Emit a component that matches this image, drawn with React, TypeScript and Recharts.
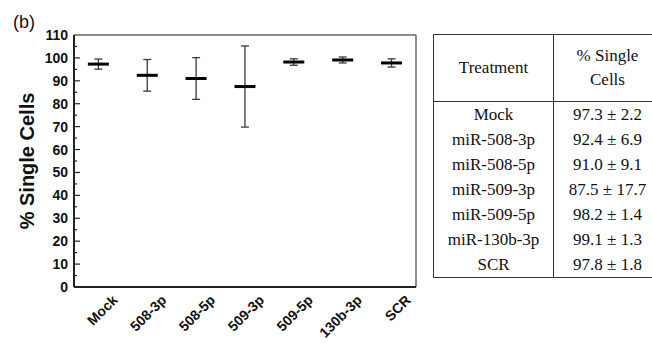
import React from 'react';
import { ComposedChart, Bar, XAxis, YAxis, CartesianGrid } from 'recharts';

const categories = ['Mock', '508-3p', '508-5p', '509-3p', '509-5p', '130b-3p', 'SCR'];
const treatments = ['Mock', 'miR-508-3p', 'miR-508-5p', 'miR-509-3p', 'miR-509-5p', 'miR-130b-3p', 'SCR'];
const means = [97.3, 92.4, 91.0, 87.5, 98.2, 99.1, 97.8];
const errors = [2.2, 6.9, 9.1, 17.7, 1.4, 1.3, 1.8];
const yTicks = [0, 5, 10, 15, 20, 25, 30, 35, 40, 45, 50, 55, 60, 65, 70, 75, 80, 85, 90, 95, 100, 105, 110];
const meanLabels = ['97.3', '92.4', '91.0', '87.5', '98.2', '99.1', '97.8'];
const errLabels = ['2.2', '6.9', '9.1', '17.7', '1.4', '1.3', '1.8'];

const data = categories.map((name, i) => ({ name, mean: means[i], err: errors[i] }));

const SANS = '"Liberation Sans", Arial, Helvetica, sans-serif';
const SERIF = '"Liberation Serif", "Times New Roman", Times, serif';

const MeanErr = (props: any) => {
  const { x, y, width, height, payload } = props;
  if (payload == null || !payload.mean) return null;
  const cx = x + width / 2;
  const k = height / payload.mean;
  const top = y - payload.err * k;
  const bot = y + payload.err * k;
  return (
    <g>
      <line x1={cx} x2={cx} y1={top} y2={bot} stroke="#3a3a3a" strokeWidth={1.3} />
      <line x1={cx - 4} x2={cx + 4} y1={top} y2={top} stroke="#3a3a3a" strokeWidth={1.3} />
      <line x1={cx - 4} x2={cx + 4} y1={bot} y2={bot} stroke="#3a3a3a" strokeWidth={1.3} />
      <line x1={cx - 10.5} x2={cx + 10.5} y1={y} y2={y} stroke="#000" strokeWidth={3} />
    </g>
  );
};

const YTick = (props: any) => {
  const { x, y, payload } = props;
  const v = payload.value;
  const major = v % 10 === 0;
  const ax = x + 6;
  return (
    <g>
      {v !== 0 && v !== 110 && (
        <line x1={ax} x2={ax + (major ? 6 : 3)} y1={y} y2={y} stroke="#222" strokeWidth={1.2} />
      )}
      {major && (
        <text x={x} y={y} dy="0.36em" textAnchor="end" fontFamily={SANS} fontWeight="bold" fontSize={14} fill="#111">
          {v}
        </text>
      )}
    </g>
  );
};

const XTick = (props: any) => {
  const { x, y, payload } = props;
  return (
    <g transform={`translate(${x + 20},${y + 14}) rotate(-45)`}>
      <text x={0} y={0} textAnchor="end" fontFamily={SANS} fontWeight="bold" fontSize={14} fill="#111">
        {payload.value}
      </text>
    </g>
  );
};

const topEdge = (args: any) => [args.offset.top];
const rightEdge = (args: any) => [args.offset.left + args.offset.width];

const cellStyle: React.CSSProperties = {
  padding: 0,
  textAlign: 'center',
  whiteSpace: 'nowrap',
};

export default function App() {
  return (
    <div
      style={{
        position: 'fixed',
        left: 0,
        top: 0,
        width: 652,
        height: 343,
        overflow: 'hidden',
        background: '#fff',
      }}
    >
      <div
        style={{
          position: 'absolute',
          left: 13,
          top: 12,
          fontFamily: SANS,
          fontSize: 18,
          lineHeight: '20px',
          color: '#111',
        }}
      >
        (b)
      </div>
      <div style={{ position: 'absolute', left: 0, top: 0 }}>
        <ComposedChart
          width={430}
          height={343}
          data={data}
          margin={{ top: 35, right: 14, bottom: 0, left: 0 }}
        >
          <CartesianGrid
            stroke="#666"
            strokeWidth={1.5}
            horizontalCoordinatesGenerator={topEdge}
            verticalCoordinatesGenerator={rightEdge}
          />
          <XAxis
            dataKey="name"
            type="category"
            interval={0}
            height={56}
            tickSize={0}
            tickMargin={0}
            tickLine={false}
            axisLine={{ stroke: '#222', strokeWidth: 2 }}
            tick={<XTick />}
          />
          <YAxis
            type="number"
            domain={[0, 110]}
            ticks={yTicks}
            interval={0}
            width={74}
            tickSize={0}
            tickMargin={6}
            tickLine={false}
            axisLine={{ stroke: '#222', strokeWidth: 2 }}
            tick={<YTick />}
            label={{
              value: '% Single Cells',
              angle: -90,
              position: 'insideLeft',
              offset: 27,
              style: {
                fontFamily: SANS,
                fontWeight: 'bold',
                fontSize: 20,
                fill: '#111',
                textAnchor: 'middle',
              },
            }}
          />
          <Bar dataKey="mean" fill="none" isAnimationActive={false} shape={<MeanErr />} />
        </ComposedChart>
      </div>
      <table
        style={{
          position: 'absolute',
          left: 433,
          top: 34,
          borderCollapse: 'collapse',
          fontFamily: SERIF,
          fontSize: 17,
          color: '#111',
          tableLayout: 'fixed',
          width: 228,
          border: '1.5px solid #333',
        }}
      >
        <colgroup>
          <col style={{ width: 120 }} />
          <col style={{ width: 108 }} />
        </colgroup>
        <thead>
          <tr>
            <th
              style={{
                ...cellStyle,
                fontWeight: 'normal',
                height: 66,
                lineHeight: '24px',
                borderRight: '1.5px solid #333',
                borderBottom: '1.5px solid #333',
              }}
            >
              Treatment
            </th>
            <th
              style={{
                ...cellStyle,
                fontWeight: 'normal',
                height: 66,
                lineHeight: '24px',
                borderBottom: '1.5px solid #333',
              }}
            >
              % Single
              <br />
              Cells
            </th>
          </tr>
        </thead>
        <tbody>
          {treatments.map((t, i) => (
            <tr key={t}>
              <td style={{ ...cellStyle, height: 25, lineHeight: '25px', borderRight: '1.5px solid #333' }}>{t}</td>
              <td style={{ ...cellStyle, height: 25, lineHeight: '25px' }}>
                {meanLabels[i]} ± {errLabels[i]}
              </td>
            </tr>
          ))}
        </tbody>
      </table>
    </div>
  );
}
